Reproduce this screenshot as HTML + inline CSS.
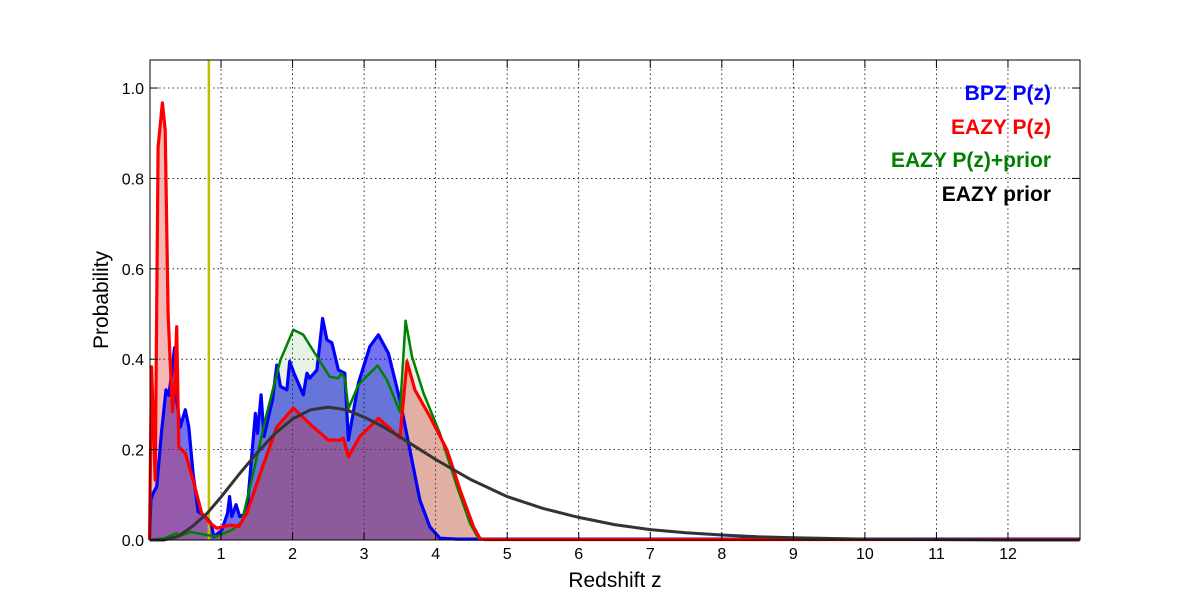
<!DOCTYPE html>
<html><head><meta charset="utf-8"><style>
html,body{margin:0;padding:0;background:#fff;}
svg{display:block;font-family:"Liberation Sans","DejaVu Sans",sans-serif;}
</style></head><body>
<svg id="chart" width="1200" height="600" viewBox="0 0 1200 600" xmlns="http://www.w3.org/2000/svg">
<rect width="1200" height="600" fill="#fff"/>
<g id="grid"></g>
<g id="fills"></g>
<g id="lines"></g>
<rect x="150" y="60" width="930" height="480" fill="none" stroke="#000" stroke-width="1"/>
<g id="ticks"></g>
<text x="615" y="587" font-size="21" text-anchor="middle">Redshift z</text>
<text transform="translate(108,300) rotate(-90)" font-size="21" text-anchor="middle">Probability</text>
<g font-size="21" font-weight="bold" text-anchor="end">
<text x="1051" y="100" fill="#0000ff">BPZ P(z)</text>
<text x="1051" y="134" fill="#ff0000">EAZY P(z)</text>
<text x="1051" y="167" fill="#008000">EAZY P(z)+prior</text>
<text x="1051" y="201" fill="#000">EAZY prior</text>
</g>
</svg>
<script>
const xTicks=[1,2,3,4,5,6,7,8,9,10,11,12];
const yTicks=[0.0,0.2,0.4,0.6,0.8,1.0];
const yellowZ=0.83;
const bpzZ=[0,0.02,0.05,0.10,0.17,0.23,0.27,0.31,0.35,0.38,0.43,0.50,0.55,0.61,0.68,0.78,0.86,0.90,1.01,1.09,1.12,1.15,1.21,1.26,1.36,1.48,1.51,1.56,1.60,1.72,1.78,1.83,1.92,1.96,2.02,2.15,2.20,2.24,2.34,2.42,2.48,2.55,2.64,2.73,2.78,2.92,3.08,3.20,3.34,3.50,3.64,3.78,3.92,4.06,4.3,13];
const bpzP=[0.005,0.09,0.103,0.118,0.243,0.332,0.32,0.369,0.425,0.31,0.25,0.288,0.25,0.147,0.063,0.052,0.037,0.007,0.022,0.059,0.096,0.052,0.078,0.052,0.059,0.28,0.236,0.321,0.229,0.31,0.387,0.34,0.332,0.395,0.369,0.321,0.369,0.358,0.376,0.49,0.443,0.436,0.376,0.369,0.221,0.347,0.428,0.454,0.413,0.31,0.199,0.088,0.029,0.004,0.002,0.002];
const eazyZ=[0,0.03,0.08,0.12,0.18,0.22,0.26,0.32,0.35,0.38,0.41,0.50,0.61,0.73,0.85,0.94,1.13,1.25,1.36,1.55,1.78,2.01,2.29,2.50,2.66,2.71,2.78,2.94,3.20,3.34,3.50,3.60,3.71,3.92,4.16,4.34,4.53,4.62,4.7,13];
const eazyP=[0.0,0.383,0.133,0.87,0.967,0.907,0.50,0.284,0.33,0.472,0.206,0.192,0.133,0.059,0.037,0.026,0.033,0.03,0.059,0.148,0.25,0.292,0.25,0.221,0.221,0.225,0.184,0.229,0.269,0.25,0.226,0.395,0.332,0.273,0.199,0.111,0.029,0.003,0.001,0.001];
const priorPostZ=[0,0.21,0.38,0.42,0.57,0.80,0.94,1.15,1.29,1.45,1.64,1.83,2.01,2.15,2.34,2.52,2.64,2.68,2.73,2.78,2.92,3.08,3.19,3.32,3.50,3.58,3.67,3.83,4.06,4.30,4.48,4.60,4.7,13];
const priorPostP=[0,0.004,0.015,0.008,0.018,0.011,0.008,0.022,0.04,0.148,0.28,0.398,0.465,0.454,0.406,0.361,0.358,0.369,0.358,0.291,0.343,0.369,0.386,0.354,0.284,0.485,0.406,0.325,0.236,0.118,0.037,0.003,0.001,0.001];
const priorZ=[0,0.2,0.4,0.6,0.8,1.0,1.25,1.5,1.75,2.0,2.25,2.5,2.75,3.0,3.25,3.5,3.75,4.0,4.5,5,5.5,6,6.5,7,7.5,8,8.5,9,10,11,12,13];
const priorP=[0,0,0.008,0.03,0.058,0.095,0.145,0.192,0.235,0.268,0.288,0.294,0.288,0.272,0.252,0.228,0.203,0.178,0.133,0.096,0.07,0.05,0.034,0.023,0.016,0.011,0.007,0.005,0.002,0.001,0,0];

const X0=149.5,X1=1079.5,Y0=540,Y1=60,ZMAX=13,PMAX=1.062;
const sx=z=>X0+z/ZMAX*(X1-X0);
const sy=p=>Y0-p/PMAX*(Y0-Y1);
const NS='http://www.w3.org/2000/svg';
function mk(tag,parent,attrs){const e=document.createElementNS(NS,tag);for(const k in attrs)e.setAttribute(k,attrs[k]);parent.appendChild(e);return e;}
const grid=document.getElementById('grid'),ticks=document.getElementById('ticks');
xTicks.forEach(t=>{
  const x=sx(t);
  const g=mk('line',grid,{x1:x,x2:x,y1:60,y2:540,stroke:'#000','stroke-dasharray':'1.5,3','stroke-width':0.8});
  
  
  mk('line',ticks,{x1:x,x2:x,y1:540,y2:532,stroke:'#000'});
  mk('line',ticks,{x1:x,x2:x,y1:60,y2:68,stroke:'#000'});
  const l=mk('text',ticks,{x:x,y:559,'font-size':16,'text-anchor':'middle'});
  l.textContent=t;
  
  
});
yTicks.forEach(t=>{
  const y=sy(t);
  if(t>0){const g=mk('line',grid,{x1:150,x2:1080,y1:y,y2:y,stroke:'#000','stroke-dasharray':'1.5,3','stroke-width':0.8});
  
  }
  mk('line',ticks,{x1:150,x2:158,y1:y,y2:y,stroke:'#000'});
  mk('line',ticks,{x1:1080,x2:1072,y1:y,y2:y,stroke:'#000'});
  const l=mk('text',ticks,{x:144,y:y+6,'font-size':16,'text-anchor':'end'});
  l.textContent=t.toFixed(1);
  
  
});
function pts(zs,ps){return zs.map((z,i)=>sx(z).toFixed(1)+','+sy(ps[i]).toFixed(1)).join(' ');}
function area(zs,ps){return 'M'+sx(zs[0])+','+sy(0)+' L'+pts(zs,ps)+' L'+sx(zs[zs.length-1])+','+sy(0)+'Z';}
const fills=document.getElementById('fills'),lines=document.getElementById('lines');
const bf=mk('path',fills,{d:area(bpzZ,bpzP),fill:'rgba(0,0,230,0.55)'});


const gf=mk('path',fills,{d:area(priorPostZ,priorPostP),fill:'rgba(0,128,0,0.1)'});


const rf=mk('path',fills,{d:area(eazyZ,eazyP),fill:'rgba(220,40,30,0.33)'});


const yl=mk('line',lines,{x1:sx(yellowZ),x2:sx(yellowZ),y1:60,y2:540,stroke:'#bfbf00','stroke-width':2.5});


const bl=mk('polyline',lines,{points:pts(bpzZ,bpzP),fill:'none',stroke:'#0000ff','stroke-width':3.2,'stroke-linejoin':'round'});


const gl=mk('polyline',lines,{points:pts(priorPostZ,priorPostP),fill:'none',stroke:'#008000','stroke-width':2.5,'stroke-linejoin':'round'});


const rl=mk('polyline',lines,{points:pts(eazyZ,eazyP),fill:'none',stroke:'#ff0000','stroke-width':3.2,'stroke-linejoin':'round'});


const kl=mk('polyline',lines,{points:pts(priorZ,priorP),fill:'none',stroke:'#333','stroke-width':3,'stroke-linejoin':'round'});


</script>
</body></html>
